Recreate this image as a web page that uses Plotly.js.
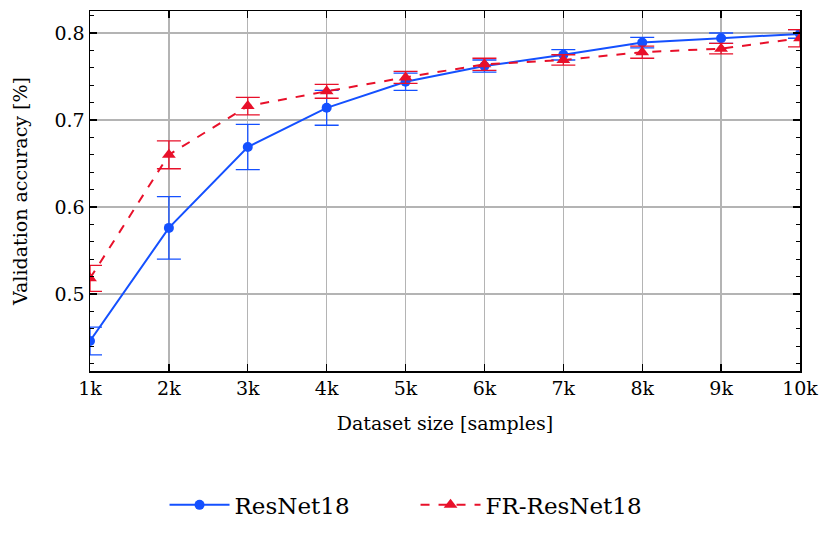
<!DOCTYPE html>
<html>
<head>
<meta charset="utf-8">
<script src="https://cdn.plot.ly/plotly-3.0.1.min.js"></script>
<style>html,body{margin:0;padding:0;background:#fff;}</style>
</head>
<body>
<div id="chart" style="width:831px;height:546px;"></div>
<script>
var sizes = [1000, 2000, 3000, 4000, 5000, 6000, 7000, 8000, 9000, 10000];
var tickLabels = ['1k', '2k', '3k', '4k', '5k', '6k', '7k', '8k', '9k', '10k'];

var resnetAcc = [0.446, 0.576, 0.669, 0.714, 0.744, 0.762, 0.775, 0.789, 0.794, 0.799];
var resnetErr = [0.016, 0.036, 0.026, 0.020, 0.010, 0.007, 0.006, 0.006, 0.006, 0.005];

var frAcc = [0.518, 0.660, 0.716, 0.733, 0.749, 0.764, 0.769, 0.778, 0.782, 0.794];
var frErr = [0.015, 0.016, 0.010, 0.008, 0.007, 0.007, 0.006, 0.007, 0.006, 0.010];

var blue = '#1450ff';
var red = '#e8102a';

var trace1 = {
  x: sizes,
  y: resnetAcc,
  error_y: {type: 'data', array: resnetErr, visible: true, color: blue, thickness: 1.3, width: 12},
  mode: 'lines+markers',
  line: {color: blue, width: 2},
  marker: {color: blue, size: 10, symbol: 'circle'},
  name: 'ResNet18'
};

var trace2 = {
  x: sizes,
  y: frAcc,
  error_y: {type: 'data', array: frErr, visible: true, color: red, thickness: 1.3, width: 12},
  mode: 'lines+markers',
  line: {color: red, width: 2, dash: 'dash'},
  marker: {color: red, size: 12, symbol: 'triangle-up'},
  name: 'FR-ResNet18'
};

var layout = {
  width: 831,
  height: 546,
  margin: {l: 90, r: 31, t: 11, b: 175},
  paper_bgcolor: '#fff',
  plot_bgcolor: '#fff',
  font: {family: 'DejaVu Serif, serif', size: 19, color: '#000'},
  showlegend: true,
  legend: {
    orientation: 'h',
    x: 0.4585, xanchor: 'center',
    y: -0.372, yanchor: 'middle',
    font: {size: 23},
    itemwidth: 60,
    entrywidth: 176,
    tracegroupgap: 0
  },
  xaxis: {
    range: [1000, 10000],
    tickvals: sizes,
    ticktext: tickLabels,
    ticks: 'inside',
    ticklen: 7,
    tickwidth: 1.3,
    tickcolor: '#000',
    showline: true,
    linecolor: '#000',
    linewidth: 1.5,
    mirror: 'ticks',
    showgrid: true,
    gridcolor: '#b4b4b4',
    gridwidth: 1.3,
    zeroline: false,
    title: {text: 'Dataset size [samples]', font: {size: 19}, standoff: 18}
  },
  yaxis: {
    range: [0.4115, 0.8253],
    tickvals: [0.5, 0.6, 0.7, 0.8],
    ticktext: ['0.5', '0.6', '0.7', '0.8'],
    ticks: 'inside',
    ticklen: 7,
    tickwidth: 1.3,
    tickcolor: '#000',
    minor: {dtick: 0.02, tick0: 0.4, ticks: 'inside', ticklen: 4, tickwidth: 1, tickcolor: '#000', showgrid: false},
    showline: true,
    linecolor: '#000',
    linewidth: 1.5,
    mirror: 'ticks',
    showgrid: true,
    gridcolor: '#b4b4b4',
    gridwidth: 1.3,
    zeroline: false,
    title: {text: 'Validation accuracy [%]', font: {size: 19}, standoff: 22}
  }
};

Plotly.newPlot('chart', [trace1, trace2], layout, {displayModeBar: false, staticPlot: true});
</script>
</body>
</html>
